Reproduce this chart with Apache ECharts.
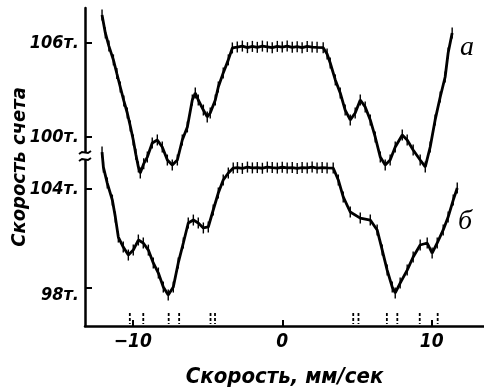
<!DOCTYPE html>
<html>
<head>
<meta charset="utf-8">
<script src="https://cdn.jsdelivr.net/npm/echarts@6/dist/echarts.min.js"></script>
<style>
  html, body { margin: 0; padding: 0; background: #fff; }
  #chart { width: 484px; height: 390px; }
</style>
</head>
<body>
<div id="chart"></div>
<script>
// кривая а (верхняя), скорость мм/сек и скорость счета (тыс.)
let velA = [-12.06, -11.84, -11.6, -11.3, -11.07, -10.84, -10.6, -10.37, -10.17, -9.97, -9.8, -9.63, -9.5, -9.27, -9.03,
  -8.7, -8.36, -8.03, -7.69, -7.36, -7.02, -6.69, -6.35, -6.02, -5.82, -5.62, -5.28, -5.02, -4.82, -4.48, -4.28, -3.95,
  -3.61, -3.34, -3.01, -2.67, -2.33, -2.0, -1.67, -1.33, -1.0, -0.67, -0.33, 0, 0.33, 0.67, 1.0, 1.33, 1.67, 2.0, 2.33,
  2.74, 3.0, 3.21, 3.55, 3.88, 4.21, 4.55, 4.88, 5.22, 5.55, 5.89, 6.22, 6.56, 6.89, 7.22, 7.56, 8.03, 8.36, 8.76, 9.23,
  9.57, 9.9, 10.23, 10.57, 10.9, 11.1, 11.37]
let countA = [107.79, 106.64, 105.8, 104.92, 104.05, 103.19, 102.3, 101.53, 100.7, 99.81, 98.9, 98.09, 97.7, 98.3, 98.72,
  99.62, 99.81, 99.36, 98.53, 98.21, 98.53, 99.81, 100.64, 102.36, 102.81, 102.36, 101.72, 101.28, 101.53, 102.36, 103.19, 104.09,
  104.92, 105.68, 105.74, 105.8, 105.7, 105.78, 105.72, 105.8, 105.75, 105.7, 105.78, 105.74, 105.8, 105.72, 105.76, 105.7, 105.78, 105.74, 105.72,
  105.7, 105.3, 104.72, 103.64, 102.81, 101.72, 101.09, 101.53, 102.36, 101.92, 101.09, 100.0, 98.72, 98.21, 98.53, 99.36, 100.13, 99.81, 99.17, 98.53,
  98.09, 99.36, 101.09, 102.55, 103.83, 105.36, 106.64]

// кривая б (нижняя)
let velB = [-12.06, -11.97, -11.71, -11.37, -11.17, -10.97, -10.64, -10.3, -9.97, -9.63, -9.3, -8.96, -8.63, -8.29, -7.96,
  -7.63, -7.29, -6.96, -6.62, -6.29, -5.95, -5.62, -5.28, -4.95, -4.62, -4.28, -3.95, -3.61, -3.28, -3.0, -2.67, -2.33,
  -2.0, -1.67, -1.33, -1.0, -0.67, -0.33, 0, 0.33, 0.67, 1.0, 1.33, 1.67, 2.0, 2.33, 2.67, 3.0, 3.41, 3.75, 4.08, 4.55,
  5.22, 5.89, 6.35, 6.69, 7.02, 7.36, 7.56, 7.89, 8.36, 8.76, 9.23, 9.7, 10.03, 10.37, 10.77, 11.1, 11.44, 11.71]
let countB = [106.24, 105.33, 104.36, 103.33, 102.3, 101.09, 100.48, 100.0, 100.3, 100.91, 100.73, 100.3, 99.52, 98.91, 98.06,
  97.58, 98.06, 99.52, 100.73, 101.94, 102.12, 101.94, 101.64, 101.7, 102.73, 103.76, 104.55, 104.97, 105.27, 105.3, 105.25, 105.33,
  105.28, 105.3, 105.26, 105.33, 105.3, 105.27, 105.32, 105.28, 105.3, 105.25, 105.3, 105.28, 105.33, 105.27, 105.3, 105.28, 105.27, 104.55, 103.52, 102.61,
  102.24, 102.12, 101.52, 100.3, 99.09, 98.06, 97.7, 98.3, 99.09, 99.88, 100.61, 100.73, 100.12, 100.73, 101.52, 102.3, 103.33, 104.06]

// положения линий спектра (штрихи над осью)
let lineMarks = [-10.2, -9.3, -7.6, -6.9, -4.8, -4.5, 4.75, 5.1, 7.0, 7.7, 9.2, 10.4]

let xTicks = [-10, 0, 10]
let yTicksA = [100, 106]
let yTicksB = [98, 104]

const font = '"Liberation Sans Narrow", "DejaVu Sans Condensed", sans-serif'
const yMinA = 87.94, yMaxA = 108.23
const yMinB = 95.7, yMaxB = 114.97

let chart = echarts.init(document.getElementById('chart'))

function curve(vel, cnt, yi) {
  return {
    type: 'line',
    yAxisIndex: yi,
    data: vel.map((v, i) => [v, cnt[i]]),
    showSymbol: true,
    symbol: 'rect',
    symbolSize: [1.4, 11],
    itemStyle: { color: '#000' },
    lineStyle: { color: '#000', width: 2.8 },
    clip: false,
    animation: false
  }
}

let labelStyle = { color: '#000', fontFamily: font, fontStyle: 'italic', fontWeight: 'bold', fontSize: 18 }

let yAxisBase = {
  type: 'value',
  position: 'left',
  splitLine: { show: false },
  axisLine: { show: false, onZero: false },
  axisTick: { show: true, inside: true, length: 7, lineStyle: { color: '#000', width: 2 } },
  axisLabel: Object.assign({}, labelStyle, {
    margin: 6,
    formatter: v => v === 98 ? '{lo|' + v + 'т.}' : v + 'т.',
    rich: { lo: Object.assign({}, labelStyle, { padding: [14, 0, 0, 0] }) }
  })
}

let option = {
  backgroundColor: '#fff',
  animation: false,
  grid: { left: 85, right: 0, top: 8, bottom: 64, containLabel: false, outerBoundsMode: 'none' },
  xAxis: {
    type: 'value',
    min: -13.2, max: 13.5,
    splitLine: { show: false },
    axisLine: { onZero: false, lineStyle: { color: '#000', width: 2.5 } },
    axisTick: { inside: true, length: 6, customValues: xTicks, lineStyle: { color: '#000', width: 2 } },
    axisLabel: {
      customValues: xTicks, margin: 7,
      color: '#000', fontFamily: font, fontStyle: 'italic', fontWeight: 'bold', fontSize: 19,
      formatter: v => v < 0 ? '\u2212' + Math.abs(v) : String(v)
    },
    name: 'Скорость, мм/сек',
    nameLocation: 'middle',
    nameGap: 40,
    nameMoveOverlap: false,
    nameTextStyle: { color: '#000', fontFamily: font, fontStyle: 'italic', fontWeight: 'bold', fontSize: 22 }
  },
  yAxis: [
    Object.assign({}, yAxisBase, {
      min: yMinA, max: yMaxA,
      axisLine: { show: true, onZero: false, lineStyle: { color: '#000', width: 2.5 } },
      axisTick: Object.assign({}, yAxisBase.axisTick, { customValues: yTicksA }),
      axisLabel: Object.assign({}, yAxisBase.axisLabel, { customValues: yTicksA }),
      name: 'Скорость счета',
      nameLocation: 'middle',
      nameGap: 55,
      nameRotate: 90,
      nameMoveOverlap: false,
      nameTextStyle: { color: '#000', fontFamily: font, fontStyle: 'italic', fontWeight: 'bold', fontSize: 20 }
    }),
    Object.assign({}, yAxisBase, {
      min: yMinB, max: yMaxB,
      axisTick: Object.assign({}, yAxisBase.axisTick, { customValues: yTicksB }),
      axisLabel: Object.assign({}, yAxisBase.axisLabel, { customValues: yTicksB })
    })
  ],
  series: [
    curve(velA, countA, 0),
    curve(velB, countB, 1),
    {
      type: 'custom',
      yAxisIndex: 1,
      data: lineMarks.map(v => [v]),
      encode: { x: 0 },
      renderItem(params, api) {
        let p = api.coord([api.value(0), yMinB])
        return {
          type: 'line',
          shape: { x1: p[0], y1: p[1] - 13, x2: p[0], y2: p[1] - 2 },
          style: { stroke: '#000', lineWidth: 1.8, lineDash: [3, 2] }
        }
      },
      animation: false
    }
  ],
  graphic: [
    // разрыв оси
    { type: 'rect', shape: { x: 81, y: 153, width: 8, height: 7 }, style: { fill: '#fff' }, z: 100 },
    { type: 'polyline', shape: { points: [[79, 154], [82, 152], [88, 153], [91, 151]] }, style: { stroke: '#000', lineWidth: 2, fill: null }, z: 101 },
    { type: 'polyline', shape: { points: [[79, 161], [82, 159], [88, 160], [91, 158]] }, style: { stroke: '#000', lineWidth: 2, fill: null }, z: 101 },
    { type: 'text', left: 460, top: 34, style: { text: 'а', fill: '#000', font: 'italic 28px "Liberation Serif", serif' } },
    { type: 'text', left: 458, top: 208, style: { text: 'б', fill: '#000', font: 'italic 28px "Liberation Serif", serif' } }
  ]
}

chart.setOption(option)
</script>
</body>
</html>
